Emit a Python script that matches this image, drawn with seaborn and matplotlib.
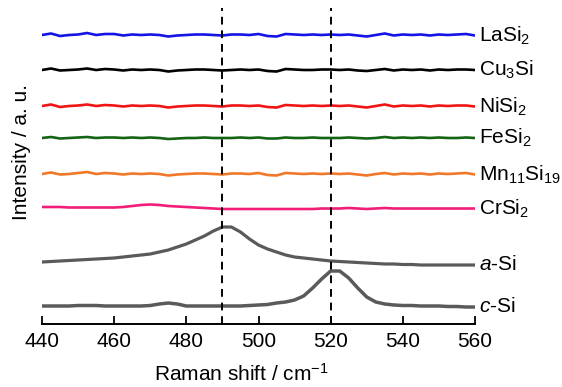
import numpy as np
import pandas as pd
import seaborn as sns
import matplotlib.pyplot as plt

# Raman shift grid (cm-1), 2.5 cm-1 steps
shift = np.arange(440, 560.1, 2.5)

# relative intensities (a. u.)
lasi2 = [0, 1.5, -1, 0, 0.5, 2, 0, 1, 1, -0.5, 0.5, 0, 0.5, 0, -1.5, -0.5, 0,
         0.5, 0.5, 0, -0.5, 0.5, 0.5, 0, 1, -1, -1.5, 1, 0.5, 0, 0.5, 0, 0.5,
         0, 0.5, -0.5, -1.5, 0, 1.5, -0.5, 0.5, 0, 0.5, -0.5, 0.5, 0, 0.5, 1, -0.5]
cu3si = [0, 1.5, -0.5, 0, 0.5, 1.5, 0, 1, 0.5, -0.5, 0.5, 0, 0.5, 0, -1.5, -0.5, 0,
         0.5, 0.5, 0, -0.5, 0, 0.5, 0, 0.5, -1, -1.5, 1, 0.5, 0, 0, 0.5, 0.5,
         0, 0.5, -0.5, -1, 0, 1, -0.5, 0.5, 0, 0.5, -0.5, 0.5, 0, 0.5, 0.5, 0]
nisi2 = [0, 1.5, -1, 0, 0.5, 1.5, 0, 1, 0.5, -0.5, 0.5, 0, 0.5, 0, -1.5, -0.5, 0,
         0.5, 0.5, 0, -0.5, 0.5, 0.5, 0, 0.5, -1, -1.5, 1, 0.5, 0, 0.5, 0, 0.5,
         0, 0.5, -0.5, -1.5, 0, 1.5, -0.5, 0.5, 0, 0.5, -0.5, 0.5, 0, 0.5, 0.5, -0.5]
fesi2 = [0, 1, -0.5, 0, 0.5, 1, 0, 0.5, 0.5, 0, 0.5, 0, 0.5, 0, -1, -0.5, 0,
         0, 0.5, 0, 0, 0, 0.5, 0, 0.5, -0.5, -0.5, 0.5, 0, 0, 0.5, 0, 0,
         0, 0.5, 0, -0.5, 0, 1, 0, 0.5, 0, 0.5, 0, 0.5, 0, 0, 0.5, 0]
mn11si19 = [0, 1.5, -0.5, 0, 1, 2, 0, 1, 0.5, -0.5, 0.5, 0, 0.5, 0, -1.5, -0.5, 0,
            0.5, 0.5, 0, -0.5, 0.5, 0.5, 0, 1, -1, -1.5, 1, 0.5, 0, 0.5, 0, 0.5,
            0, 0.5, -0.5, -1.5, 0, 1, -0.5, 0.5, 0, 0.5, -0.5, 0.5, 0, 0.5, 1, -0.5]
crsi2 = [2, 2, 2, 1.5, 1.5, 1.5, 1.5, 1.5, 1.5, 2, 3, 4, 4.5, 4, 3, 2.5, 2,
         1.5, 1, 0.5, 0, 0, 0, 0, 0, 0, 0, 0, 0, 0, 0, 0.5, 0.5,
         0.5, 1, 0.5, 0, 0.5, 1, 0.5, 0.5, 0.5, 0.5, 0.5, 0.5, 0.5, 0.5, 0.5, 0.5]
a_si = [0, 0.5, 1, 1.5, 2, 2.5, 3, 3.5, 4, 5, 6, 7, 8, 10, 12, 15, 18,
        22, 26, 31, 35, 35, 30, 23, 17, 13, 10, 7, 5, 4, 3, 2, 1,
        0.5, 0, -0.5, -1, -1.5, -2, -2, -2.5, -2.5, -3, -3, -3, -3, -3, -3, -3]
c_si = [0, 0, 0, 0, 0.5, 0.5, 0.5, 0, 0, 0, 0, 0, 0.5, 2, 3, 2, 0,
        0, 0, 0, 0, 0, 0, 0.5, 1, 1.5, 3, 4, 6, 10, 18, 27, 35,
        35, 28, 18, 9, 4, 2, 1, 0.5, 0.5, 0, 0, 0, -0.5, -0.5, -1, -1]

names = ['LaSi$_2$', 'Cu$_3$Si', 'NiSi$_2$', 'FeSi$_2$', 'Mn$_{11}$Si$_{19}$',
         'CrSi$_2$', '$\\it{a}$-Si', '$\\it{c}$-Si']
series = [lasi2, cu3si, nisi2, fesi2, mn11si19, crsi2, a_si, c_si]
offsets = [289, 254, 218, 186, 150, 115, 62, 18]
colors = ['#1414e6', '#000000', '#f01414', '#146414', '#f07828', '#f01e78',
          '#5a5a5a', '#5a5a5a']
widths = [1.9, 1.9, 1.9, 1.9, 1.9, 1.9, 2.3, 2.5]
peaks = [490, 520]

sns.set_style('ticks')
plt.rcParams['font.family'] = ['Liberation Sans', 'DejaVu Sans']
plt.rcParams['mathtext.fontset'] = 'custom'
plt.rcParams['mathtext.rm'] = 'Liberation Sans'
plt.rcParams['mathtext.it'] = 'Liberation Sans:italic'
plt.rcParams['text.color'] = 'black'
plt.rcParams['axes.labelcolor'] = 'black'
plt.rcParams['xtick.color'] = 'black'

fig = plt.figure(figsize=(5.62, 3.87), dpi=100)
ax = fig.add_axes([42 / 562, 63 / 387, 433 / 562, 324 / 387])

for name, vals, off, col, lw in zip(names, series, offsets, colors, widths):
    d = pd.DataFrame({'shift': shift, 'I': np.array(vals) + off})
    sns.lineplot(data=d, x='shift', y='I', color=col, lw=lw, ax=ax)
    ax.text(561, off + vals[-1], name, fontsize=15, va='center', ha='left',
            clip_on=False)

for p in peaks:
    ax.axvline(p, ymax=0.975, color='black', lw=1.4, ls=(0, (4, 3)))

ax.set_xlim(440, 560)
ax.set_ylim(0, 324)
ax.set_xticks(np.arange(440, 561, 20))
ax.set_yticks([])
ax.tick_params(axis='x', direction='in', length=6, width=1.3, labelsize=15,
               pad=6, color='black', labelcolor='black')
sns.despine(ax=ax, left=True)
ax.spines['bottom'].set_linewidth(1.4)
ax.spines['bottom'].set_color('black')

ax.set_xlabel('Raman shift / cm$^{-1}$', fontsize=15)
ax.xaxis.set_label_coords(0.46, -0.12)
ax.set_ylabel('Intensity / a. u.', fontsize=15)
ax.yaxis.set_label_coords(-0.025, 0.53)

fig.savefig('out.png', dpi=100)
